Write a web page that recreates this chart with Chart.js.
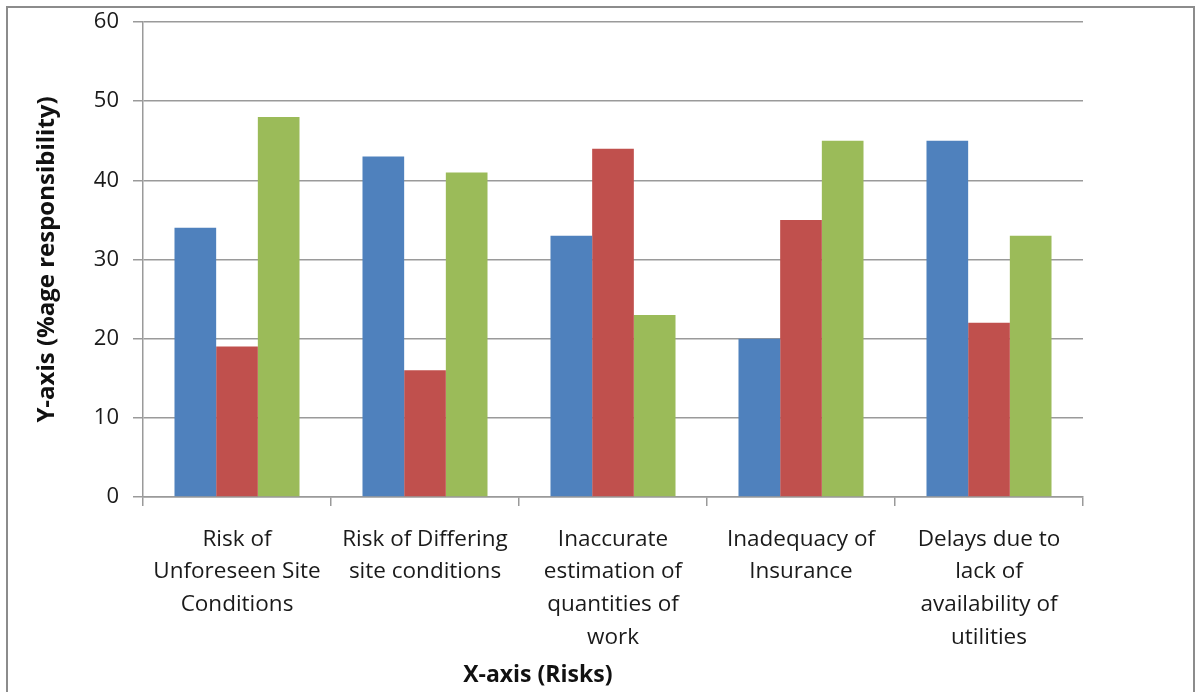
<!DOCTYPE html>
<html>
<head>
<meta charset="utf-8">
<script src="https://cdn.jsdelivr.net/npm/chart.js@4/dist/chart.umd.min.js"></script>
<style>
  html, body { margin: 0; padding: 0; background: #fff; overflow: hidden; }
  #frame {
    position: absolute; left: 6px; top: 6px; width: 1189px; height: 720px;
    border: 2px solid #8c8c8c; box-sizing: border-box;
  }
  #wrap { position: absolute; left: 0; top: 0; width: 1199px; height: 692px; }
</style>
</head>
<body>
<div id="frame"></div>
<div id="wrap"><canvas id="c" width="1199" height="692"></canvas></div>
<script>
// Risk categories (multi-line labels)
const categories = [
  ["Risk of", "Unforeseen Site", "Conditions"],
  ["Risk of Differing", "site conditions"],
  ["Inaccurate", "estimation of", "quantities of", "work"],
  ["Inadequacy of", "Insurance"],
  ["Delays due to", "lack of", "availability of", "utilities"]
];

// Percentage responsibility per party
const seriesNames = ["Owner", "Contractor", "Shared"];
const ownerValues = [34, 43, 33, 20, 45];
const contractorValues = [19, 16, 44, 35, 22];
const sharedValues = [48, 41, 23, 45, 33];

const yTicks = [0, 10, 20, 30, 40, 50, 60];
const xTitle = "X-axis (Risks)";
const yTitle = "Y-axis (%age responsibility)";

const colors = ["#4F81BD", "#C0504D", "#9BBB59"];
const FONT = "'Open Sans', Lato, sans-serif";

// Horizontal axis caption, placed a little left of the plot centre
const xCaption = {
  id: "xCaption",
  afterDraw(chart) {
    const { ctx, chartArea } = chart;
    ctx.save();
    ctx.font = "bold 23px " + FONT;
    ctx.fillStyle = "#111";
    ctx.textAlign = "center";
    ctx.textBaseline = "middle";
    ctx.fillText(xTitle, chartArea.left + chartArea.width * 0.42, chart.height - 17);
    ctx.restore();
  }
};

new Chart(document.getElementById("c"), {
  type: "bar",
  data: {
    labels: categories,
    datasets: [
      { label: seriesNames[0], data: ownerValues, backgroundColor: colors[0] },
      { label: seriesNames[1], data: contractorValues, backgroundColor: colors[1] },
      { label: seriesNames[2], data: sharedValues, backgroundColor: colors[2] }
    ]
  },
  plugins: [xCaption],
  options: {
    responsive: false,
    animation: false,
    layout: { padding: { left: 33, top: 22, right: 116, bottom: 0 } },
    datasets: { bar: { categoryPercentage: 0.665, barPercentage: 1.0, borderWidth: 0 } },
    plugins: { legend: { display: false }, tooltip: { enabled: false } },
    scales: {
      x: {
        offset: true,
        grid: {
          offset: true, drawOnChartArea: false, drawTicks: true,
          tickLength: 9, color: "#9a9a9a", lineWidth: 1.5
        },
        border: { display: true, color: "#9a9a9a", width: 1.5 },
        ticks: {
          color: "#1a1a1a", padding: 17, maxRotation: 0, autoSkip: false,
          font: { family: FONT, size: 22.5, lineHeight: 1.45 }
        },
        afterFit(scale) { scale.height = 195; }
      },
      y: {
        min: 0, max: 60,
        afterBuildTicks(scale) { scale.ticks = yTicks.map(v => ({ value: v })); },
        grid: { color: "#9a9a9a", lineWidth: 1.5, tickLength: 10, drawTicks: true },
        border: { display: true, color: "#9a9a9a", width: 1.5 },
        ticks: {
          color: "#1a1a1a", padding: 14,
          font: { family: FONT, size: 22 }
        },
        title: {
          display: true, text: yTitle, color: "#111",
          font: { family: FONT, size: 24, weight: "bold" }, padding: { top: 0, bottom: 4 }
        },
        afterFit(scale) {
          scale.width = 143 - 33;
          scale.paddingTop = 0;
          scale.paddingBottom = 0;
        }
      }
    }
  }
});
</script>
</body>
</html>
